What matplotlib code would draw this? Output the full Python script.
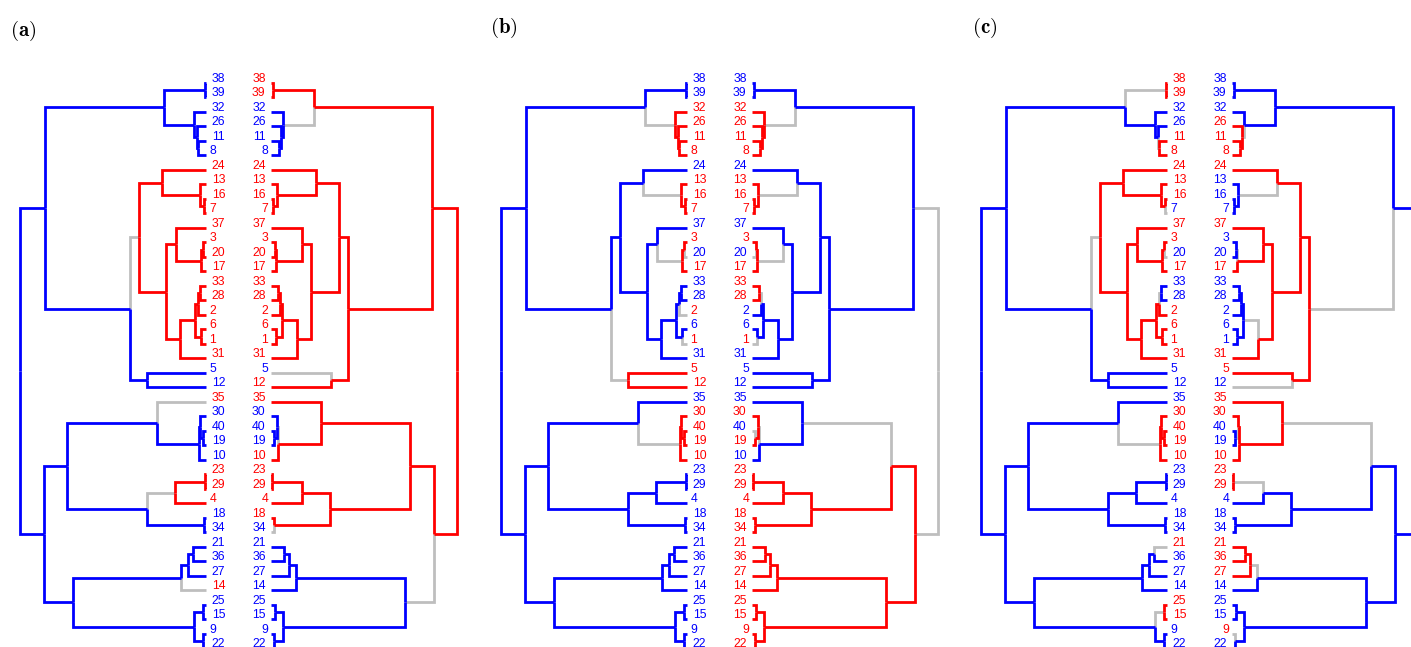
import matplotlib
matplotlib.use("Agg")
import matplotlib.pyplot as plt

plt.rcParams['font.family'] = ['Liberation Sans', 'DejaVu Sans']
plt.rcParams['mathtext.fontset'] = 'cm'

# leaf order, top to bottom (same for both trees in every panel)
leaves = ['38', '39', '32', '26', '11', '8', '24', '13', '16', '7',
          '37', '3', '20', '17', '33', '28', '2', '6', '1', '31',
          '5', '12', '35', '30', '40', '19', '10', '23', '29', '4',
          '18', '34', '21', '36', '27', '14', '25', '15', '9', '22']

# merges: node, upper child, lower child, merge height
merges = [
    ('n1', '38', '39', 1.5),
    ('n2', '11', '8', 8.0),
    ('n3', '26', 'n2', 9.5),
    ('n4', '32', 'n3', 11.7),
    ('T', 'n1', 'n4', 42.5),
    ('n5', '16', '7', 2.0),
    ('n6', '13', 'n5', 6.0),
    ('R1', '24', 'n6', 44.5),
    ('n7', '3', '20', 3.5),
    ('n8', 'n7', '17', 5.0),
    ('R2a', '37', 'n8', 30.5),
    ('n9', '33', '28', 6.5),
    ('n10', 'n9', '2', 8.5),
    ('n11', '6', '1', 5.0),
    ('n12', 'n10', 'n11', 11.0),
    ('R2b', 'n12', '31', 26.0),
    ('R2', 'R2a', 'R2b', 40.0),
    ('R', 'R1', 'R2', 67.5),
    ('n13', '5', '12', 59.5),
    ('M', 'R', 'n13', 76.5),
    ('U', 'T', 'M', 161.0),
    ('n14', '40', '19', 2.8),
    ('n15', '30', 'n14', 6.0),
    ('n16', 'n15', '10', 7.2),
    ('L1a', '35', 'n16', 49.5),
    ('n17', '23', '29', 1.2),
    ('n18', 'n17', '4', 31.0),
    ('n19', '18', '34', 2.5),
    ('L1b', 'n18', 'n19', 59.0),
    ('L1', 'L1a', 'L1b', 139.0),
    ('n20', '21', '36', 13.0),
    ('n21', 'n20', '27', 18.0),
    ('L2a', 'n21', '14', 25.0),
    ('n22', '25', '15', 3.5),
    ('n23', '9', '22', 3.0),
    ('L2b', 'n22', 'n23', 12.0),
    ('L2', 'L2a', 'L2b', 133.5),
    ('L', 'L1', 'L2', 162.5),
    ('root', 'U', 'L', 186.0),
]

# leaf colours per panel and side (b = blue, r = red), in leaf order
a_left_leaf = "bbbbbbrrrr" "rrrrrrrrrr" "bbrbbbbrrr" "bbbbbrbbbb"
a_right_leaf = "rrbbbbrrrr" "rrrrrrrrrr" "brrbbbrrrr" "rbbbbbbbbb"
b_left_leaf = "bbrrrrbrrr" "brbrbbrbrb" "rrbrrrrbbb" "bbbbbbbbbb"
b_right_leaf = "bbrrrrbrrr" "brbrrrbbrb" "bbbrbrbrrr" "rrrrrrrrrr"
c_left_leaf = "rrbbrrrrrb" "rrbrbbrrrr" "bbbrrrrbbb" "bbrbbbrrbb"
c_right_leaf = "bbbrrrrbbb" "rbbrbbbbbr" "rbrrbbrrrb" "bbrrrbbbrb"

# colour of internal nodes whose two children disagree (g = grey)
a_left_mix = {'M': 'b', 'L1a': 'b', 'L1b': 'b', 'L2a': 'b'}
a_right_mix = {'T': 'r', 'n13': 'r', 'n16': 'r', 'n19': 'r', 'L': 'r'}
b_left_mix = {'T': 'b', 'R1': 'b', 'n7': 'r', 'R2a': 'b', 'n10': 'b',
              'n11': 'b', 'M': 'b', 'L1a': 'b'}
b_right_mix = {'T': 'b', 'R1': 'b', 'n7': 'r', 'R2a': 'b', 'n10': 'b',
               'n11': 'b', 'n14': 'r', 'n16': 'b', 'L1': 'r', 'root': 'g'}
c_left_mix = {'T': 'b', 'n3': 'b', 'n5': 'r', 'n7': 'r', 'n10': 'r',
              'M': 'b', 'L1a': 'b', 'n20': 'b', 'L2b': 'b'}
c_right_mix = {'n4': 'b', 'R1': 'r', 'n8': 'r', 'R2b': 'r', 'n13': 'r',
               'U': 'b', 'n15': 'r', 'n18': 'b', 'L1': 'b', 'L2a': 'b',
               'n23': 'b'}

panels = [
    ('(a)', a_left_leaf, a_left_mix, a_right_leaf, a_right_mix),
    ('(b)', b_left_leaf, b_left_mix, b_right_leaf, b_right_mix),
    ('(c)', c_left_leaf, c_left_mix, c_right_leaf, c_right_mix),
]

COLORS = {'r': '#FF0000', 'b': '#0000FF', 'g': '#BEBEBE'}

W, H = 1411, 647
GAP = 32.5          # half gap between the two trees (height units)
HALF = 238.5        # half width of a panel
Y_TOP, Y_BOT = -5.72, 38.9
panel_left_px = [0, 481, 961]
title_px = [(10, 31), (490, 28), (972, 28)]


def layout(leaf_cols, mix):
    y = {lab: float(i) for i, lab in enumerate(leaves)}
    h = {lab: 0.0 for lab in leaves}
    col = dict(zip(leaves, leaf_cols))
    parent = {}
    for name, a, b, ht in merges:
        y[name] = (y[a] + y[b]) / 2
        h[name] = ht
        parent[a] = name
        parent[b] = name
        col[name] = col[a] if col[a] == col[b] else mix.get(name, 'g')
        col[name] = mix.get(name, col[name])
    return y, h, col, parent


def draw_tree(ax, leaf_cols, mix, sign):
    y, h, col, parent = layout(leaf_cols, mix)
    edges = sorted(parent.items(), key=lambda e: col[e[0]] == col[e[1]])
    for node, p in edges:
        c = col[node] if col[node] == col[p] else 'g'
        xs = [sign * (GAP + h[node]), sign * (GAP + h[p]), sign * (GAP + h[p])]
        ys = [y[node], y[node], y[p]]
        ax.plot(xs, ys, color=COLORS[c], lw=2, solid_joinstyle='miter',
                solid_capstyle='butt')
    for i, lab in enumerate(leaves):
        shift = 2.4 if len(lab) == 1 else 0.0
        if sign < 0:
            ax.text(-GAP + 5.7 - shift, i - 0.3, lab, ha='left', va='center',
                    color=COLORS[leaf_cols[i]], fontsize=8.8)
        else:
            ax.text(GAP - 5.3 + shift, i - 0.3, lab, ha='right', va='center',
                    color=COLORS[leaf_cols[i]], fontsize=8.8)


fig = plt.figure(figsize=(W / 100, H / 100), dpi=100)

for k, (tag, l_leaf, l_mix, r_leaf, r_mix) in enumerate(panels):
    ax = fig.add_axes([panel_left_px[k] / W, 0, 2 * HALF / W, 1])
    draw_tree(ax, l_leaf, l_mix, -1)
    draw_tree(ax, r_leaf, r_mix, 1)
    ax.set_xlim(-HALF, HALF)
    ax.set_ylim(Y_BOT, Y_TOP)
    ax.axis('off')
    tx, ty = title_px[k]
    fig.text(tx / W, 1 - ty / H, r'$\mathbf{' + tag + '}$', fontsize=15,
             ha='left', va='center')

fig.savefig('out.png', dpi=100)
